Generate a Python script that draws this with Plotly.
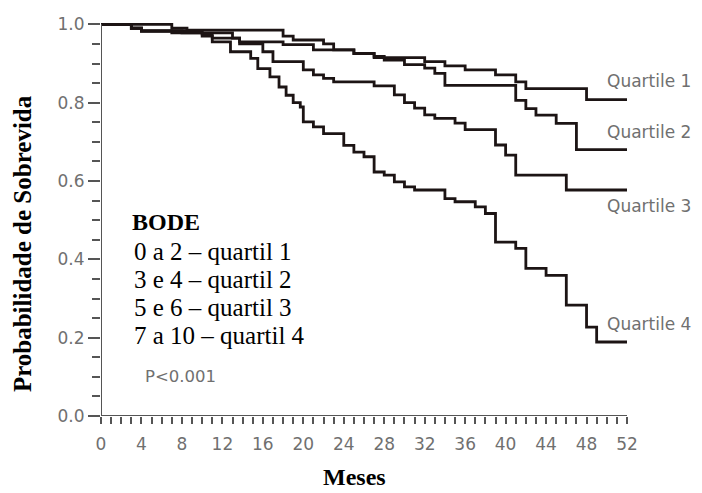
import plotly.graph_objects as go

# ---- data ----
q1_t = [0, 7, 8.5, 18, 19, 22, 23, 25, 27, 32, 34, 36, 39, 41, 42, 48, 52]
q1_s = [1.0, 0.99, 0.985, 0.97, 0.96, 0.95, 0.935, 0.925, 0.915, 0.905, 0.894, 0.884, 0.871, 0.853, 0.836, 0.808, 0.808]

q2_t = [0, 3, 4, 7, 13, 13.7, 18, 21, 25, 27, 28, 30, 32, 33, 34, 41, 42, 43, 45, 47, 52]
q2_s = [1.0, 0.99, 0.983, 0.978, 0.965, 0.955, 0.948, 0.935, 0.926, 0.918, 0.909, 0.897, 0.888, 0.875, 0.844, 0.806, 0.785, 0.768, 0.747, 0.68, 0.68]

q3_t = [0, 3, 4, 10, 11, 13.7, 16, 17, 20, 21, 22, 23, 27, 29, 30, 31, 32, 33, 35, 36, 39, 40, 41, 46, 52]
q3_s = [1.0, 0.99, 0.983, 0.975, 0.965, 0.95, 0.93, 0.905, 0.884, 0.871, 0.862, 0.853, 0.843, 0.82, 0.8, 0.786, 0.769, 0.76, 0.748, 0.731, 0.692, 0.666, 0.615, 0.577, 0.577]

q4_t = [0, 3, 4, 8, 10, 11, 12.8, 14.8, 15.5, 16.7, 17.6, 18.3, 19, 19.7, 20, 21, 22, 24, 25, 26, 27, 28, 29, 30, 31, 34, 35, 37, 38, 39, 41, 42, 44, 46, 48, 49, 52]
q4_s = [1.0, 0.99, 0.983, 0.978, 0.97, 0.955, 0.93, 0.913, 0.887, 0.866, 0.84, 0.819, 0.8, 0.789, 0.751, 0.738, 0.721, 0.691, 0.674, 0.662, 0.623, 0.615, 0.598, 0.585, 0.577, 0.555, 0.547, 0.534, 0.517, 0.444, 0.428, 0.377, 0.359, 0.283, 0.227, 0.189, 0.189]

names = ["Quartile 1", "Quartile 2", "Quartile 3", "Quartile 4"]
label_y = [0.855, 0.725, 0.535, 0.235]
series = list(zip(names, [q1_t, q2_t, q3_t, q4_t], [q1_s, q2_s, q3_s, q4_s], label_y))

legend_title = "BODE"
legend_lines = ["0 a 2 \u2013 quartil 1", "3 e 4 \u2013 quartil 2",
                "5 e 6 \u2013 quartil 3", "7 a 10 \u2013 quartil 4"]
legend_line_y = [0.421, 0.349, 0.277, 0.205]
p_text = "P<0.001"
x_title = "Meses"
y_title = "Probabilidade de Sobrevida"

x_ticks = list(range(0, 53, 4))
y_ticks = [0.0, 0.2, 0.4, 0.6, 0.8, 1.0]

LINE = "#1c1414"
AXIS = "#555555"
GRAY = "#707070"
SERIF = "Liberation Serif"
SANS = "DejaVu Sans"

fig = go.Figure()
for name, t, s, ly in series:
    fig.add_trace(go.Scatter(x=t, y=s, mode="lines", line=dict(color=LINE, width=2.8, shape="hv"),
                             showlegend=False, hoverinfo="skip"))
    fig.add_annotation(x=49.85, y=ly, xref="x", yref="y", text=name, showarrow=False,
                       xanchor="left", yanchor="middle",
                       font=dict(family=SANS, size=17, color=GRAY))

# axis lines
fig.add_shape(type="line", xref="x", yref="y", x0=0, x1=0, y0=0, y1=1.0,
              line=dict(color=AXIS, width=2))
fig.add_shape(type="line", xref="x", yref="y", x0=0, x1=52, y0=0, y1=0,
              line=dict(color=AXIS, width=2))

# BODE text block
fig.add_annotation(x=2.85, y=0.496, xref="x", yref="y", text="<b>%s</b>" % legend_title,
                   showarrow=False, xanchor="left", yanchor="middle",
                   font=dict(family=SERIF, size=24, color="black"))
for ln, ly in zip(legend_lines, legend_line_y):
    fig.add_annotation(x=3.05, y=ly, xref="x", yref="y", text=ln,
                       showarrow=False, xanchor="left", yanchor="middle",
                       font=dict(family=SERIF, size=25, color="black"))
fig.add_annotation(x=4.2, y=0.100, xref="x", yref="y", text=p_text, showarrow=False,
                   xanchor="left", yanchor="middle", font=dict(family=SANS, size=16.5, color=GRAY))

# axis titles
fig.add_annotation(x=0.481, y=-0.155, xref="paper", yref="paper", text="<b>%s</b>" % x_title,
                   showarrow=False, xanchor="center", yanchor="middle",
                   font=dict(family=SERIF, size=24, color="black"))
fig.add_annotation(x=-0.150, y=0.4365, xref="paper", yref="paper", text="<b>%s</b>" % y_title,
                   showarrow=False, xanchor="center", yanchor="middle", textangle=-90,
                   font=dict(family=SERIF, size=25, color="black"))

fig.update_xaxes(range=[0, 52], showline=False, showgrid=False, zeroline=False, automargin=False,
                 tickmode="array", tickvals=x_ticks, ticktext=[str(v) for v in x_ticks],
                 ticks="outside", ticklen=7, tickwidth=1.5, tickcolor=AXIS, ticklabelstandoff=6,
                 minor=dict(dtick=1, ticks="outside", ticklen=7, tickwidth=1.5, tickcolor=AXIS),
                 tickfont=dict(family=SANS, size=17, color=GRAY))
fig.update_yaxes(range=[0, 1.006], showline=False, showgrid=False, zeroline=False, automargin=False,
                 tickmode="array", tickvals=y_ticks, ticktext=["%.1f" % v for v in y_ticks],
                 ticks="outside", ticklen=12, tickwidth=1.5, tickcolor=AXIS,
                 minor=dict(dtick=0.05, ticks="outside", ticklen=8, tickwidth=1.5, tickcolor=AXIS),
                 tickfont=dict(family=SANS, size=17, color=GRAY))

fig.update_layout(width=702, height=493, margin=dict(l=101, r=75, t=22, b=77),
                  paper_bgcolor="white", plot_bgcolor="white")
fig.write_html("out.html")
